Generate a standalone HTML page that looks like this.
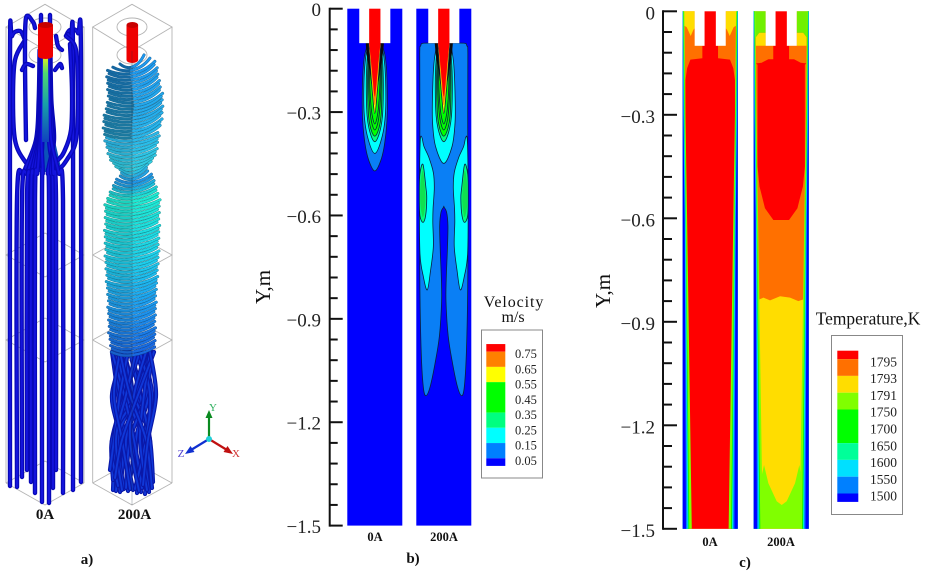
<!DOCTYPE html>
<html lang="en">
<head>
<meta charset="utf-8">
<title>Streamlines, velocity and temperature fields</title>
<style>
html,body{margin:0;padding:0;background:#fff;}
svg{display:block;font-family:"Liberation Serif",serif;}
</style>
</head>
<body>
<svg id="fig" width="931" height="575" viewBox="0 0 931 575" xmlns="http://www.w3.org/2000/svg">
  <defs>
    <linearGradient id="jetGrad" x1="0" y1="0" x2="0" y2="1">
      <stop offset="0" stop-color="#d8f020"/>
      <stop offset="0.18" stop-color="#50d870"/>
      <stop offset="0.55" stop-color="#18a0a8"/>
      <stop offset="1" stop-color="#1040c0"/>
    </linearGradient>
  </defs>
  <rect x="0" y="0" width="931" height="575" fill="#fff"/>
  <g id="panelA"></g>
  <g id="panelB"></g>
  <g id="panelC"></g>

  <g font-weight="bold" fill="#111" text-anchor="middle" font-size="14">
    <text x="45" y="519" font-size="15">0A</text>
    <text x="134.500" y="519" font-size="15">200A</text>
    <text x="87" y="564" font-size="15">a)</text>
    <text x="375" y="541" font-size="12.500">0A</text>
    <text x="444" y="541" font-size="12.500">200A</text>
    <text x="413" y="563" font-size="15">b)</text>
    <text x="710" y="546" font-size="12.500">0A</text>
    <text x="781" y="546" font-size="12.500">200A</text>
    <text x="745" y="567" font-size="15">c)</text>
  </g>

  <text transform="translate(270,287) rotate(-90)" text-anchor="middle" font-size="21" fill="#111">Y,m</text>
  <text transform="translate(610,291) rotate(-90)" text-anchor="middle" font-size="21" fill="#111">Y,m</text>

  <text x="514" y="307" text-anchor="middle" font-size="16" letter-spacing="0.9" fill="#111">Velocity</text>
  <text x="513" y="322" text-anchor="middle" font-size="16" fill="#111">m/s</text>
  <text x="868" y="324.500" text-anchor="middle" font-size="17.400" fill="#111">Temperature,K</text>
</svg>

<script>
// ---------- axis data ----------
const yMajorTicks = [0, -0.3, -0.6, -0.9, -1.2, -1.5];
const yMinorTicks = [-0.06,-0.12,-0.18,-0.24,-0.36,-0.42,-0.48,-0.54,-0.66,-0.72,-0.78,-0.84,-0.96,-1.02,-1.08,-1.14,-1.26,-1.32,-1.38,-1.44];
const yTickLabels = ['0','\u22120.3','\u22120.6','\u22120.9','\u22121.2','\u22121.5'];

// ---------- legends ----------
const velocityLegendLabels = ['0.75','0.65','0.55','0.45','0.35','0.25','0.15','0.05'];
const velocityLabelValues = [0.75,0.65,0.55,0.45,0.35,0.25,0.15,0.05];
const velocityBandBreaks = [0.8,0.75,0.65,0.55,0.35,0.25,0.15,0.05,0];
const velocityBandColors = ['#ff0000','#ff8000','#ffff00','#00ff00','#00ff80','#00ffff','#0080ff','#0000ff'];
const temperatureLegendLabels = ['1795','1793','1791','1750','1700','1650','1600','1550','1500'];
const temperatureBandUnits = [0.5,1,1,1,2,1,1,1,0.5];
const temperatureBandColors = ['#ff0000','#ff7000','#ffdd00','#80ff00','#00ff00','#00ff99','#00e0ff','#0080ff','#0000ff'];

// ---------- velocity contours: [y in m, half width as fraction of half channel] ----------
const plumeBlue0A   = [[-0.1,0.25],[-0.14,0.38],[-0.2,0.44],[-0.31,0.45],[-0.39,0.36],[-0.44,0.22],[-0.471,0]];
const plumeCyan0A   = [[-0.1,0.22],[-0.14,0.33],[-0.2,0.39],[-0.3,0.39],[-0.37,0.27],[-0.42,0]];
const plumeCyan200A = [[-0.1,0.25],[-0.16,0.36],[-0.25,0.41],[-0.33,0.41],[-0.4,0.3],[-0.449,0]];
const plumeSpring   = [[-0.1,0.2],[-0.15,0.28],[-0.22,0.31],[-0.31,0.28],[-0.36,0.17],[-0.386,0]];
const plumeGreenA   = [[-0.1,0.19],[-0.16,0.25],[-0.23,0.26],[-0.31,0.23],[-0.35,0.14],[-0.37,0]];
const plumeGreenB   = [[-0.1,0.18],[-0.16,0.22],[-0.23,0.22],[-0.3,0.17],[-0.335,0.1],[-0.352,0]];
const plumeGreenC   = [[-0.1,0.17],[-0.16,0.19],[-0.23,0.18],[-0.29,0.13],[-0.32,0.07],[-0.335,0]];
const plumeDense    = [[-0.1,0.33],[-0.14,0.28],[-0.18,0.19],[-0.22,0.12],[-0.25,0]];
const plumeYellow   = [[-0.1,0.22],[-0.18,0.15],[-0.25,0.08],[-0.304,0]];
const plumeOrange   = [[-0.1,0.21],[-0.16,0.14],[-0.22,0.08],[-0.28,0]];
const plumeRed      = [[-0.1,0.205],[-0.15,0.14],[-0.2,0.08],[-0.255,0]];
const blueRegionLeft200A = [[0,-0.1],[-0.72,-0.1],[-0.84,-0.108],[-0.875,-0.13],[-0.87,-0.3],[-0.875,-0.6],[-0.87,-0.81],[-0.82,-1.0],[-0.745,-1.098],[-0.65,-1.123],[-0.5,-1.098],[-0.32,-1.03],[-0.16,-0.95],[-0.08,-0.85],[-0.09,-0.78],[-0.13,-0.7],[-0.15,-0.63],[-0.1,-0.59],[0,-0.575]];
const cyanSideLeft200A = [[-0.86,-0.39],[-0.8,-0.373],[-0.72,-0.4],[-0.55,-0.43],[-0.382,-0.475],[-0.345,-0.52],[-0.39,-0.58],[-0.4,-0.62],[-0.38,-0.69],[-0.479,-0.758],[-0.6,-0.816],[-0.745,-0.777],[-0.867,-0.71],[-0.885,-0.55]];
const springSideLeft200A = [[-0.757,-0.452],[-0.65,-0.52],[-0.62,-0.55],[-0.66,-0.6],[-0.757,-0.62],[-0.87,-0.6],[-0.89,-0.54],[-0.87,-0.48]];
const greenSideLeft200A = [[-0.757,-0.47],[-0.68,-0.53],[-0.68,-0.57],[-0.757,-0.605],[-0.85,-0.57],[-0.85,-0.51]];

// ---------- temperature fields: [u, y in m] ----------
const tempYellowLeft0A = [[-1,0],[-0.565,0],[-0.565,-0.049],[-0.612,-0.054],[-0.709,-0.0715],[-0.855,-0.046],[-0.927,-0.0425],[-1,-0.04]];
const tempRedHalf0A = [[-0.285,-0.1],[-0.285,-0.136],[-0.72,-0.14],[-0.84,-0.165],[-0.9,-0.2],[-0.9,-1.5]];
const tempLimeLeft200A = [[-1,0],[-0.565,0],[-0.565,-0.062],[-0.8,-0.062],[-0.92,-0.075],[-1,-0.075]];
const tempYellowLeft200A = [[-0.92,-0.1],[-0.565,-0.1],[-0.565,-0.062],[-0.8,-0.062],[-0.92,-0.075]];
const tempRedHalf200A = [[-0.285,-0.1],[-0.285,-0.139],[-0.467,-0.139],[-0.709,-0.149],[-0.915,-0.151],[-0.86,-0.155],[-0.86,-0.45],[-0.79,-0.508],[-0.74,-0.523],[-0.59,-0.571],[-0.285,-0.605],[0,-0.605]];
const tempYellow200A = [[-0.88,-0.9],[-0.794,-0.835],[-0.648,-0.83],[-0.406,-0.838],[-0.042,-0.826],[0.321,-0.83],[0.624,-0.84],[0.806,-0.835],[0.88,-0.9],[0.88,-1.5],[-0.88,-1.5]];
const tempLime200A = [[-0.9,-1.38],[-0.75,-1.36],[-0.624,-1.315],[-0.467,-1.368],[-0.164,-1.42],[0.018,-1.431],[0.2,-1.42],[0.503,-1.368],[0.66,-1.315],[0.75,-1.36],[0.9,-1.38],[0.9,-1.5],[-0.9,-1.5]];
const wedgeDepths = [0,-0.3,-0.6,-1.5];
const wedgeLime   = [0.06,0.1,0.16,0.33];
const wedgeGreen  = [0.03,0.075,0.12,0.24];
const wedgeSpring = [0.015,0.06,0.11,0.21];
const wedgeCyan   = [0.012,0.05,0.1,0.19];
const wedgeBlue   = [0.01,0.035,0.08,0.17];
const wedgeDark   = [0,0.02,0.07,0.12];

// ---------- streamline illustration ----------
const strandBottoms0A = [[17,487],[22,477],[27,470],[31,482],[35,493],[42,502],[49,503],[53,488],[56,470],[63,493]];
const wallStrands0A = [
  [[10,486],[10,60],[12,36],[20,31],[25,40]],
  [[81,482],[81,60],[78,33],[70,30],[66,36]],
  [[73,490],[73,60],[71,40],[68,34]],
  [[25,40],[15,60],[13,100],[15,140],[24,160],[36,170],[42,150],[42,100],[44,60]],
  [[66,36],[76,50],[78,100],[76,140],[68,158],[58,168],[50,150],[48,100],[47,60]],
  [[70,44],[72,90],[71,130],[64,152],[58,160]],
  [[26,140],[25,60],[26,18],[33,22],[35,28]],
  [[41,15],[41,30]],
  [[50,15],[50,30]],
  [[56,36],[58,46],[62,50]],
  [[33,66],[26,64],[22,70]],
  [[55,70],[60,64],[62,68]]
];
const coilY  = [62,67,100,117,140,160,170,180,200,233,267,297,330,347];
const coilCx = [132,131,135,133,132,133,134,134,132.5,132,132,132,132,133];
const coilHw = [12,24,27,30,27,22,12,19,27,27,26,24,23,22];
const coilColorY = [60,130,165,178,195,260,300,347];
const coilColors = [[30,150,238],[40,180,235],[50,205,225],[30,145,230],[30,235,210],[30,205,235],[30,160,240],[25,105,225]];
const coilJitter = [1,0.94,0.98,0.92,1.02,0.96,0.99,0.93];
const twistStrands = [
  [113,490,116,128,118],[116,491,120,112,126],[120,492,124,118,112],[124,489,118,132,124],
  [128,491,134,120,114],[133,490,126,140,130],[137,493,142,126,118],[141,492,136,148,136],
  [145,494,150,134,124],[149,492,144,152,142],[153,482,150,140,130],[113,480,112,125,140],
  [126,488,130,146,152],[118,486,112,136,150],[142,488,134,124,112],[135,489,146,150,140],
  [110,470,114,120,128],[122,490,116,126,136],[130,489,122,114,120],[139,491,130,134,146],
  [147,490,140,144,150],[152,488,146,130,120],[115,478,122,138,154],[143,485,148,156,150]
];

// ---------- helpers ----------
const NS = 'http://www.w3.org/2000/svg';
function add(parent, tag, attrs, name) {
  const el = document.createElementNS(NS, tag);
  for (const k in attrs) el.setAttribute(k, attrs[k]);
  
  
  parent.appendChild(el);
  return el;
}
function smooth(pts, closed) {
  const n = pts.length;
  const at = i => closed ? pts[(i + n) % n] : pts[Math.max(0, Math.min(n - 1, i))];
  let d = 'M' + pts[0][0].toFixed(2) + ' ' + pts[0][1].toFixed(2);
  const last = closed ? n : n - 1;
  for (let i = 0; i < last; i++) {
    const p0 = at(i - 1), p1 = at(i), p2 = at(i + 1), p3 = at(i + 2);
    d += 'C' + (p1[0] + (p2[0] - p0[0]) / 6).toFixed(2) + ' ' + (p1[1] + (p2[1] - p0[1]) / 6).toFixed(2) + ' ' +
         (p2[0] - (p3[0] - p1[0]) / 6).toFixed(2) + ' ' + (p2[1] - (p3[1] - p1[1]) / 6).toFixed(2) + ' ' +
         p2[0].toFixed(2) + ' ' + p2[1].toFixed(2);
  }
  return d + (closed ? 'Z' : '');
}
function poly(pts) {
  return 'M' + pts.map(p => p[0].toFixed(2) + ' ' + p[1].toFixed(2)).join('L') + 'Z';
}
function lerp(xs, ys, x) {
  if (x <= xs[0]) return ys[0];
  for (let i = 1; i < xs.length; i++) {
    if (x <= xs[i]) return ys[i - 1] + (ys[i] - ys[i - 1]) * (x - xs[i - 1]) / (xs[i] - xs[i - 1]);
  }
  return ys[ys.length - 1];
}

const velY = v => 8.7 - v * 344.6;
const tempY = v => 11.3 - v * 345;
const HALF = 27.5;
const mapPts = (pts, cx, yf) => pts.map(p => [cx + p[0] * HALF, yf(p[1])]);
const mirror = pts => pts.map(p => [-p[0], p[1]]);
const mirrorClosed = half => half.concat(half.slice().reverse().map(p => [-p[0], p[1]]));

// ---------- axis ----------
function drawAxis(parent, xSpine, yf, majorLen, minorLen, labelRight, labelDy, prefix) {
  add(parent, 'line', {x1: xSpine, x2: xSpine, y1: yf(0) - 1, y2: yf(-1.5) + 1, stroke: '#111', 'stroke-width': 2}, prefix + '-axis-line');
  yMajorTicks.forEach((v, i) => {
    add(parent, 'line', {x1: xSpine, x2: xSpine + majorLen, y1: yf(v), y2: yf(v), stroke: '#111', 'stroke-width': 2}, prefix + '-major-tick');
    const t = add(parent, 'text', {x: labelRight, y: yf(v) + labelDy, 'text-anchor': 'end', 'font-size': 19, fill: '#222'}, prefix + '-tick-label');
    t.textContent = yTickLabels[i];
  });
  yMinorTicks.forEach(v => {
    add(parent, 'line', {x1: xSpine, x2: xSpine + minorLen, y1: yf(v), y2: yf(v), stroke: '#111', 'stroke-width': 2}, prefix + '-minor-tick');
  });
}

// ---------- velocity ----------
const B = document.getElementById('panelB');
drawAxis(B, 329.7, velY, 13, 8, 321, 7.5, 'velocity-y');

function plumePath(pts, cx, yf) {
  const left = pts.map(p => [cx - p[1] * HALF, yf(p[0])]);
  const right = pts.slice(0, -1).reverse().map(p => [cx + p[1] * HALF, yf(p[0])]);
  return smooth(left.concat(right), false) + 'Z';
}
function drawNotch(g, cx, yf, topFill) {
  add(g, 'rect', {x: cx - 0.565 * HALF, y: yf(0) - 0.5, width: 1.13 * HALF, height: yf(-0.1) - yf(0) + 0.5, fill: '#fff'}, 'inlet-notch');
  add(g, 'rect', {x: cx - 0.205 * HALF, y: yf(0), width: 0.41 * HALF, height: yf(-0.1) - yf(0) + 1, fill: topFill}, 'inlet-jet');
}
function drawVelocityPanel(cx, name, is200) {
  const g = add(B, 'g', {}, name);
  add(g, 'rect', {x: cx - HALF, y: velY(0), width: 2 * HALF, height: velY(-1.5) - velY(0), fill: '#0000ff'}, 'low-velocity-field');
  const line = {stroke: '#0a2040', 'stroke-width': 0.8};
  if (is200) {
    const outline = mirrorClosed(blueRegionLeft200A).slice(0);
    add(g, 'path', Object.assign({d: smooth(mapPts(outline, cx, velY), true), fill: '#0a7ff5'}, line), 'velocity-band-0-15');
    [cyanSideLeft200A, mirror(cyanSideLeft200A)].forEach(s => add(g, 'path', Object.assign({d: smooth(mapPts(s, cx, velY), true), fill: '#00ffff'}, line), 'side-cyan-cell'));
    [springSideLeft200A, mirror(springSideLeft200A)].forEach(s => add(g, 'path', Object.assign({d: smooth(mapPts(s, cx, velY), true), fill: '#00ff80'}, line), 'side-spring-cell'));
    [greenSideLeft200A, mirror(greenSideLeft200A)].forEach(s => add(g, 'path', {d: smooth(mapPts(s, cx, velY), true), fill: '#10e050'}, 'side-green-cell'));
  } else {
    add(g, 'path', Object.assign({d: plumePath(plumeBlue0A, cx, velY), fill: '#0a7ff5'}, line), 'plume-band-0-15');
  }
  add(g, 'path', Object.assign({d: plumePath(is200 ? plumeCyan200A : plumeCyan0A, cx, velY), fill: '#00ffff'}, line), 'plume-band-0-25');
  add(g, 'path', Object.assign({d: plumePath(plumeSpring, cx, velY), fill: '#00ff80'}, line), 'plume-band-0-35');
  add(g, 'path', Object.assign({d: plumePath(plumeGreenA, cx, velY), fill: '#00ff00'}, line), 'plume-band-0-45');
  add(g, 'path', Object.assign({d: plumePath(plumeGreenB, cx, velY), fill: '#00ff00'}, line), 'plume-band-0-50');
  add(g, 'path', Object.assign({d: plumePath(plumeGreenC, cx, velY), fill: '#00ff00'}, line), 'plume-band-0-55');
  add(g, 'path', {d: plumePath(plumeDense, cx, velY), fill: '#0a0a0a'}, 'dense-contour-lines');
  add(g, 'path', Object.assign({d: plumePath(plumeYellow, cx, velY), fill: '#ffff00'}, line), 'plume-band-0-65');
  add(g, 'path', {d: plumePath(plumeOrange, cx, velY), fill: '#ff8000'}, 'plume-band-0-75');
  add(g, 'path', {d: plumePath(plumeRed, cx, velY), fill: '#ff0000'}, 'plume-core');
  drawNotch(g, cx, velY, '#ff0000');
}
drawVelocityPanel(374.8, 'velocity-field-0a', false);
drawVelocityPanel(443.8, 'velocity-field-200a', true);

const velLegend = add(B, 'g', {}, 'velocity-legend');
add(velLegend, 'rect', {x: 481.5, y: 330, width: 61, height: 148, fill: '#fff', stroke: '#888', 'stroke-width': 1}, 'velocity-legend-box');
const legV = v => 465.9 - v * 152.3;
velocityBandColors.forEach((c, i) => {
  add(velLegend, 'rect', {x: 486.3, y: legV(velocityBandBreaks[i]), width: 19, height: legV(velocityBandBreaks[i + 1]) - legV(velocityBandBreaks[i]), fill: c}, 'velocity-legend-swatch');
});
velocityLegendLabels.forEach((s, i) => {
  const t = add(velLegend, 'text', {x: 515, y: legV(velocityLabelValues[i]) + 6.5, 'font-size': 12.5, fill: '#222'}, 'velocity-legend-label');
  t.textContent = s;
});

// ---------- temperature ----------
const C = document.getElementById('panelC');
drawAxis(C, 663, tempY, 14, 9, 655, 8, 'temperature-y');

function drawWedges(g, cx) {
  const sets = [[wedgeLime,'#80ff00'],[wedgeGreen,'#00ee00'],[wedgeSpring,'#00ff99'],[wedgeCyan,'#00e0ff'],[wedgeBlue,'#0080ff'],[wedgeDark,'#0000ff']];
  sets.forEach(set => {
    [-1, 1].forEach(side => {
      const inner = wedgeDepths.map((d, i) => [side * (1 - set[0][i]), d]);
      const pts = [[side, 0]].concat(inner, [[side, -1.5]]);
      add(g, 'path', {d: poly(mapPts(pts, cx, tempY)), fill: set[1]}, 'wall-thermal-layer');
    });
  });
}
function drawTemp0A(cx) {
  const g = add(C, 'g', {}, 'temperature-field-0a');
  add(g, 'rect', {x: cx - HALF, y: tempY(0), width: 2 * HALF, height: tempY(-1.5) - tempY(0), fill: '#ff7000'}, 'orange-band');
  add(g, 'path', {d: poly(mapPts(mirrorClosed(tempRedHalf0A), cx, tempY)), fill: '#ff0000'}, 'red-core');
  [tempYellowLeft0A, mirror(tempYellowLeft0A)].forEach(s => add(g, 'path', {d: poly(mapPts(s, cx, tempY)), fill: '#ffdd00'}, 'top-yellow-band'));
  drawWedges(g, cx);
  drawNotch(g, cx, tempY, '#ff0000');
}
function drawTemp200A(cx) {
  const g = add(C, 'g', {}, 'temperature-field-200a');
  add(g, 'rect', {x: cx - HALF, y: tempY(0), width: 2 * HALF, height: tempY(-1.5) - tempY(0), fill: '#ff7000'}, 'orange-band');
  add(g, 'path', {d: poly(mapPts(mirrorClosed(tempRedHalf200A), cx, tempY)), fill: '#ff0000'}, 'red-core');
  add(g, 'rect', {x: cx - 0.285 * HALF, y: tempY(-0.1), width: 0.57 * HALF, height: tempY(-0.16) - tempY(-0.1), fill: '#ff0000'}, 'red-stem');
  add(g, 'path', {d: poly(mapPts(tempYellow200A, cx, tempY)), fill: '#ffdd00'}, 'yellow-band');
  add(g, 'path', {d: poly(mapPts(tempLime200A, cx, tempY)), fill: '#80ff00'}, 'lime-band');
  [tempYellowLeft200A, mirror(tempYellowLeft200A)].forEach(s => add(g, 'path', {d: poly(mapPts(s, cx, tempY)), fill: '#ffdd00'}, 'top-yellow-band'));
  [tempLimeLeft200A, mirror(tempLimeLeft200A)].forEach(s => add(g, 'path', {d: poly(mapPts(s, cx, tempY)), fill: '#70f000'}, 'top-lime-band'));
  drawWedges(g, cx);
  drawNotch(g, cx, tempY, '#ff0000');
}
drawTemp0A(710.2);
drawTemp200A(781.2);

const tempLegend = add(C, 'g', {}, 'temperature-legend');
add(tempLegend, 'rect', {x: 831.5, y: 335.5, width: 71, height: 179, fill: '#fff', stroke: '#888', 'stroke-width': 1}, 'temperature-legend-box');
let rank = 0;
const UNIT = 16.8;
temperatureBandColors.forEach((c, i) => {
  add(tempLegend, 'rect', {x: 837.3, y: 350.7 + rank * UNIT, width: 21, height: temperatureBandUnits[i] * UNIT, fill: c}, 'temperature-legend-swatch');
  rank += temperatureBandUnits[i];
});
temperatureLegendLabels.forEach((s, i) => {
  const t = add(tempLegend, 'text', {x: 870, y: 350.7 + (i + 0.63) * UNIT + 5, 'font-size': 13.5, fill: '#222'}, 'temperature-legend-label');
  t.textContent = s;
});

// ---------- streamline panel ----------
const A = document.getElementById('panelA');
function drawBox(name, back, left, right, front, bottomY, hw) {
  const g = add(A, 'g', {fill: 'none', stroke: '#b4b4b4', 'stroke-width': 0.9}, name);
  const cx = back;
  add(g, 'path', {d: 'M' + left + ' 27L' + cx + ' 4.3L' + right + ' 27L' + cx + ' ' + front + 'Z'}, 'box-top');
  add(g, 'path', {d: 'M' + left + ' 27V' + bottomY + 'M' + right + ' 27V' + bottomY}, 'box-edges');
  add(g, 'path', {d: 'M' + left + ' ' + bottomY + 'L' + cx + ' ' + (bottomY + 22) + 'L' + right + ' ' + bottomY}, 'box-bottom');
  add(g, 'path', {d: 'M' + left + ' ' + bottomY + 'L' + cx + ' ' + (bottomY - 22) + 'L' + right + ' ' + bottomY}, 'box-bottom-back');
  [255, 340].forEach(y => {
    add(g, 'path', {d: 'M' + left + ' ' + y + 'L' + cx + ' ' + (y - 22) + 'L' + right + ' ' + y + 'L' + cx + ' ' + (y + 22) + 'Z'}, 'box-section');
  });
  add(g, 'ellipse', {cx: cx, cy: 27, rx: hw, ry: 9}, 'inlet-ring');
  add(g, 'ellipse', {cx: cx, cy: 55, rx: hw, ry: 9}, 'outlet-ring');
}
drawBox('box-0a', 45, 6, 84, 50, 483, 16);
drawBox('box-200a', 132, 92.7, 172, 51, 483, 15);

function drawStrand(g, pts, dark, light, w) {
  const d = smooth(pts, false);
  add(g, 'path', {d: d, fill: 'none', stroke: dark, 'stroke-width': w, 'stroke-linecap': 'round'}, 'streamline-shadow');
  add(g, 'path', {d: d, fill: 'none', stroke: light, 'stroke-width': w * 0.45, 'stroke-linecap': 'round'}, 'streamline');
}
function drawCylinder(parent, cx, r, top, bottom) {
  const g = add(parent, 'g', {}, 'electrode');
  add(g, 'rect', {x: cx - r, y: top, width: 2 * r, height: bottom - top, fill: '#ee0000'}, 'electrode-body');
  add(g, 'ellipse', {cx: cx, cy: bottom, rx: r, ry: 3, fill: '#ee0000'}, 'electrode-base');
  add(g, 'ellipse', {cx: cx, cy: top, rx: r, ry: 3, fill: '#c80000'}, 'electrode-cap');
}

const g0 = add(A, 'g', {}, 'streamlines-0a');
add(g0, 'path', {d: 'M38 128L52 128L62 172L28 172Z', fill: '#0c52b8'}, 'plume-skirt');
wallStrands0A.forEach(p => drawStrand(g0, p, '#0808b8', '#1414dc', 4.4));
strandBottoms0A.forEach(b => {
  const top = b[0] < 45 ? 36 + (b[0] - 17) * 0.22 : 54 - (b[0] - 49) * 0.2;
  drawStrand(g0, [[b[0], b[1]], [b[0], 200], [b[0] + (45 - b[0]) * 0.25, 172], [top, 140], [45 + (top - 45) * 0.7, 100], [45 + (top - 45) * 0.6, 50]], '#0808b8', '#1414dc', 4.4);
});
add(g0, 'path', {d: 'M43 58L48 58L49 142L42 142Z', fill: 'url(#jetGrad)'}, 'central-jet-core');
drawCylinder(g0, 45.5, 7.5, 25, 56);

const g2 = add(A, 'g', {}, 'streamlines-200a');
twistStrands.forEach(s => {
  drawStrand(g2, [[s[0], s[1]], [s[2], 440], [s[3], 395], [s[4], 352]], '#0a18a8', '#1038d8', 4.2);
});
drawCylinder(g2, 132.3, 5.8, 25, 60);
function coilColor(y) {
  const c = [0, 1, 2].map(k => Math.round(lerp(coilColorY, coilColors.map(a => a[k]), y)));
  return c;
}
let coilIndex = 0;
for (let y = 62; y <= 350; y += 3.2) {
  const cx = lerp(coilY, coilCx, y);
  const hw = lerp(coilY, coilHw, y) * coilJitter[coilIndex % coilJitter.length];
  const c = coilColor(y);
  const shade = y < 135 ? 0.68 : 0.9;
  const leftCol = 'rgb(' + c.map(v => Math.round(v * shade)).join(',') + ')';
  const rightCol = 'rgb(' + c.join(',') + ')';
  const edge = 'rgb(' + c.map(v => Math.round(v * 0.62)).join(',') + ')';
  const rise = y < 135 ? 7 : 3;
  const d = 'M' + (cx - hw) + ' ' + (y + 2) + 'Q' + (cx - hw * 0.5) + ' ' + (y + 7) + ' ' + cx + ' ' + (y + 5) + 'Q' + (cx + hw * 0.6) + ' ' + (y + 3) + ' ' + (cx + hw) + ' ' + (y - rise);
  add(g2, 'path', {d: d, fill: 'none', stroke: edge, 'stroke-width': 3, 'stroke-linecap': 'round'}, 'coil-edge');
  add(g2, 'path', {d: 'M' + (cx - hw) + ' ' + (y + 2) + 'Q' + (cx - hw * 0.5) + ' ' + (y + 7) + ' ' + cx + ' ' + (y + 5), fill: 'none', stroke: leftCol, 'stroke-width': 2.2, 'stroke-linecap': 'round'}, 'coil-left');
  add(g2, 'path', {d: 'M' + cx + ' ' + (y + 5) + 'Q' + (cx + hw * 0.6) + ' ' + (y + 3) + ' ' + (cx + hw) + ' ' + (y - rise), fill: 'none', stroke: rightCol, 'stroke-width': 2.2, 'stroke-linecap': 'round'}, 'coil-right');
  coilIndex++;
}
add(A, 'line', {x1: 132, x2: 132, y1: 51, y2: 505, stroke: '#203040', 'stroke-width': 0.7, opacity: 0.4}, 'box-front-edge');

// coordinate triad
const triad = add(A, 'g', {}, 'coordinate-triad');
add(triad, 'line', {x1: 209, y1: 439, x2: 209, y2: 416, stroke: '#0a8a20', 'stroke-width': 2.2}, 'y-axis-arrow');
add(triad, 'path', {d: 'M209 410L205.500 418L212.500 418Z', fill: '#0a8a20'}, 'y-arrow-head');
add(triad, 'line', {x1: 209, y1: 439, x2: 191, y2: 450, stroke: '#1030d0', 'stroke-width': 2.2}, 'z-axis-arrow');
add(triad, 'path', {d: 'M185 454L190.500 446L194.500 452Z', fill: '#1030d0'}, 'z-arrow-head');
add(triad, 'line', {x1: 209, y1: 439, x2: 227, y2: 450, stroke: '#c01010', 'stroke-width': 2.2}, 'x-axis-arrow');
add(triad, 'path', {d: 'M233 454L227.500 446L223.500 452Z', fill: '#c01010'}, 'x-arrow-head');
add(triad, 'circle', {cx: 209, cy: 439, r: 3, fill: '#20d0d8'}, 'triad-origin');
const ty = add(triad, 'text', {x: 213, y: 411, 'font-size': 11, fill: '#30b060', 'text-anchor': 'middle'}, 'triad-y-label');
ty.textContent = 'Y';
const tz = add(triad, 'text', {x: 181, y: 457, 'font-size': 11, fill: '#5040d0', 'text-anchor': 'middle'}, 'triad-z-label');
tz.textContent = 'Z';
const tx = add(triad, 'text', {x: 236, y: 457, 'font-size': 11, fill: '#d03030', 'text-anchor': 'middle'}, 'triad-x-label');
tx.textContent = 'X';
</script>
</body>
</html>
